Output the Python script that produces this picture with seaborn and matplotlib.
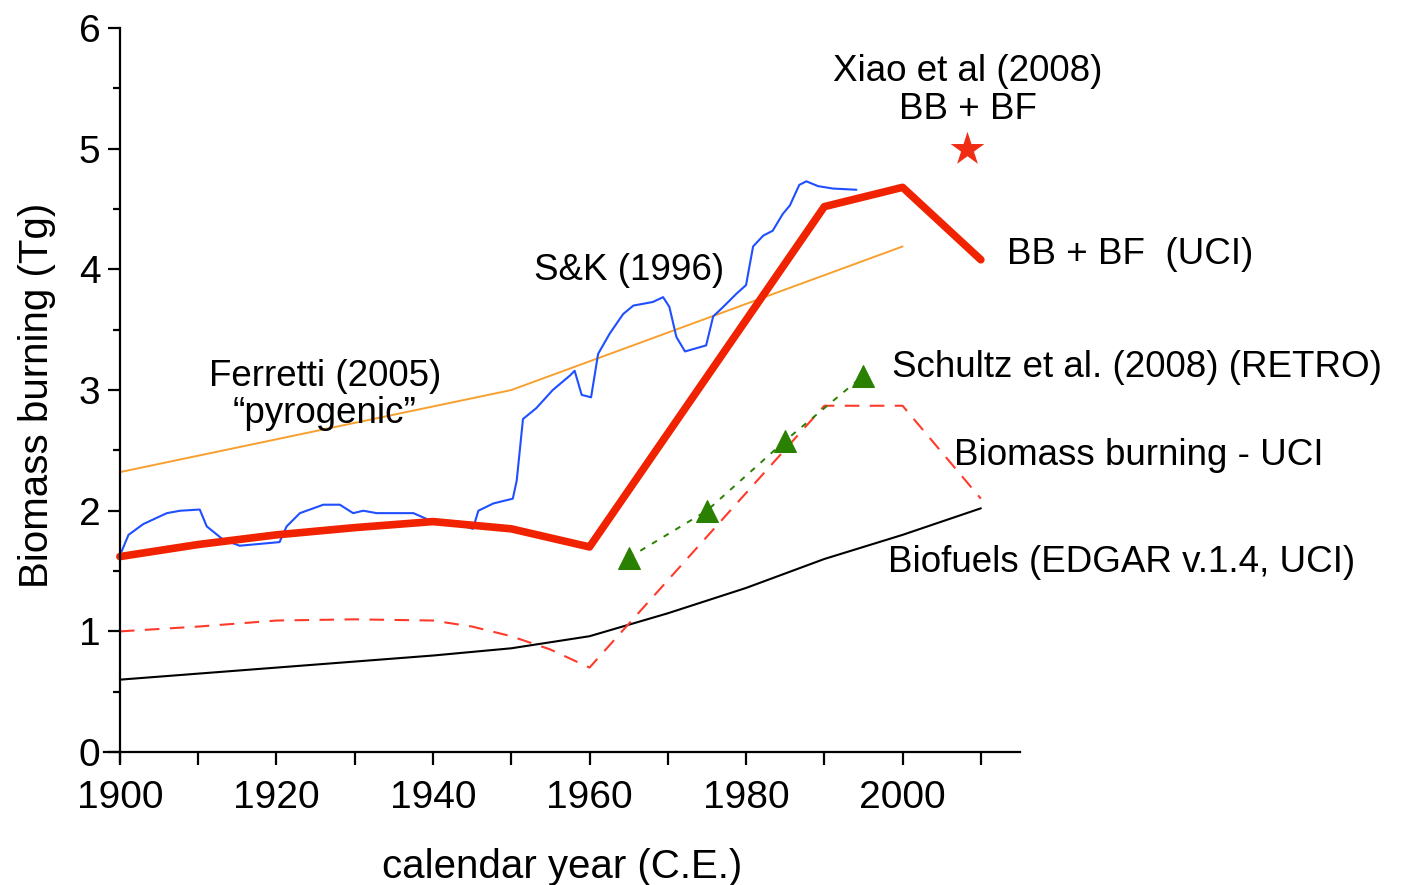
import numpy as np
import pandas as pd
import matplotlib
matplotlib.use("Agg")
import matplotlib.pyplot as plt
import seaborn as sns

# BB + BF (UCI), thick red
uci_years = [1900, 1910, 1920, 1930, 1940, 1950, 1960, 1990, 2000, 2010]
uci_vals = [1.62, 1.72, 1.80, 1.86, 1.91, 1.85, 1.70, 4.52, 4.68, 4.08]

# Ferretti (2005) pyrogenic, orange
fer_years = [1900, 1950, 2000]
fer_vals = [2.32, 3.00, 4.19]

# Biofuels (EDGAR v.1.4, UCI), black
bf_years = [1900, 1910, 1920, 1930, 1940, 1950, 1960, 1970, 1980, 1990, 2000, 2010]
bf_vals = [0.60, 0.65, 0.70, 0.75, 0.80, 0.86, 0.96, 1.15, 1.36, 1.60, 1.80, 2.02]

# Biomass burning - UCI, red dashed
bb_years = [1900, 1910, 1920, 1930, 1940, 1945, 1950, 1955, 1960, 1990, 2000, 2010]
bb_vals = [1.00, 1.04, 1.09, 1.10, 1.09, 1.04, 0.96, 0.85, 0.70, 2.87, 2.87, 2.10]

# Schultz et al. (2008) (RETRO), green triangles
retro_years = [1965, 1975, 1985, 1995]
retro_vals = [1.61, 2.00, 2.58, 3.12]

# S&K (1996), blue
sk_years = [1900.2, 1901.1, 1903.0, 1906.0, 1907.7, 1910.2, 1911.1, 1913.2, 1915.3,
            1920.4, 1921.3, 1923.0, 1926.0, 1928.1, 1929.8, 1931.1, 1932.8, 1937.5,
            1939.6, 1943.0, 1945.1, 1945.8, 1947.7, 1950.2, 1950.7, 1951.5, 1953.2,
            1955.3, 1957.5, 1958.1, 1959.0, 1960.2, 1961.1, 1962.6, 1964.3, 1965.6,
            1968.1, 1969.4, 1970.2, 1971.1, 1972.2, 1974.9, 1975.8, 1977.1, 1978.8,
            1980.0, 1980.9, 1982.2, 1983.4, 1984.7, 1985.6, 1986.8, 1987.7, 1989.2,
            1991.1, 1994.1]
sk_vals = [1.66, 1.80, 1.89, 1.98, 2.00, 2.01, 1.87, 1.76, 1.71,
           1.74, 1.87, 1.98, 2.05, 2.05, 1.98, 2.00, 1.98, 1.98,
           1.92, 1.89, 1.85, 2.00, 2.06, 2.10, 2.25, 2.76, 2.85,
           3.00, 3.12, 3.16, 2.96, 2.94, 3.30, 3.47, 3.63, 3.70,
           3.73, 3.77, 3.69, 3.44, 3.32, 3.37, 3.61, 3.69, 3.80,
           3.87, 4.19, 4.28, 4.32, 4.46, 4.53, 4.70, 4.73, 4.69,
           4.67, 4.66]

# Xiao et al (2008) point
xiao_year = [2008.2]
xiao_val = [5.0]

sns.set_style("ticks")
plt.rcParams['font.family'] = ['Liberation Sans', 'DejaVu Sans']
plt.rcParams['text.color'] = 'black'
plt.rcParams['axes.labelcolor'] = 'black'
plt.rcParams['xtick.color'] = 'black'
plt.rcParams['ytick.color'] = 'black'

fig = plt.figure(figsize=(14.03, 8.85), dpi=100)
ax = fig.add_axes([0.0743, 0.1393, 0.6527, 0.829])

sns.lineplot(x=fer_years, y=fer_vals, ax=ax, color="#F7A030", linewidth=1.4, errorbar=None)
sns.lineplot(x=bf_years, y=bf_vals, ax=ax, color="black", linewidth=1.5, errorbar=None)
sns.lineplot(x=bb_years, y=bb_vals, ax=ax, color="#FF3A2A", linewidth=1.5,
             linestyle=(0, (7, 5)), errorbar=None)
sns.lineplot(x=retro_years, y=retro_vals, ax=ax, color="#2A8000", linewidth=1.4,
             linestyle=(0, (3, 4)), marker="^", markersize=16, markeredgecolor="#2A8000",
             errorbar=None)
sns.lineplot(x=sk_years, y=sk_vals, ax=ax, color="#1F4FFF", linewidth=1.5, errorbar=None)
sns.lineplot(x=uci_years, y=uci_vals, ax=ax, color="#F02200", linewidth=5.5, errorbar=None)
sns.scatterplot(x=xiao_year, y=xiao_val, ax=ax, color="#F02C14", marker="*", s=650,
                linewidth=0, zorder=5)

ax.set_xlim(1898, 2015)
ax.set_ylim(-0.08, 6)
ax.spines['left'].set_position(('data', 1900))
ax.spines['bottom'].set_position(('data', 0))
ax.spines['top'].set_visible(False)
ax.spines['right'].set_visible(False)
for s in ['left', 'bottom']:
    ax.spines[s].set_linewidth(1.6)
    ax.spines[s].set_color('black')

ax.set_xticks([1900, 1920, 1940, 1960, 1980, 2000])
ax.set_xticks([1910, 1930, 1950, 1970, 1990, 2010], minor=True)
ax.set_yticks([0, 1, 2, 3, 4, 5, 6])
ax.set_yticks([0.5, 1.5, 2.5, 3.5, 4.5, 5.5], minor=True)
ax.tick_params(axis='both', which='major', direction='out', length=9, width=1.6,
               labelsize=28, color='black')
ax.tick_params(axis='x', which='minor', direction='out', length=9, width=1.6)
ax.tick_params(axis='y', which='minor', direction='out', length=5, width=1.6)
ax.tick_params(axis='x', which='major', pad=11)
ax.tick_params(axis='y', which='major', pad=5)

ax.set_xlabel("calendar year (C.E.)", fontsize=29, labelpad=23)
ax.set_ylabel("Biomass burning (Tg)", fontsize=29, labelpad=16)

fs = 26.5
ax.text(2008.3, 5.48, "Xiao et al (2008)\nBB + BF", fontsize=fs, ha='center', va='center',
        linespacing=1.1)
ax.text(2013.3, 4.12, "BB + BF  (UCI)", fontsize=fs, ha='left', va='center')
ax.text(1965.0, 3.99, "S&K (1996)", fontsize=fs, ha='center', va='center')
ax.text(1926.2, 2.96, "Ferretti (2005)\n\u201cpyrogenic\u201d", fontsize=fs, ha='center',
        va='center', linespacing=1.05)
ax.text(1998.7, 3.19, "Schultz et al. (2008) (RETRO)", fontsize=fs, ha='left', va='center')
ax.text(2006.6, 2.46, "Biomass burning - UCI", fontsize=fs, ha='left', va='center')
ax.text(1998.1, 1.57, "Biofuels (EDGAR v.1.4, UCI)", fontsize=fs, ha='left', va='center')

fig.savefig("out.png", dpi=100)
